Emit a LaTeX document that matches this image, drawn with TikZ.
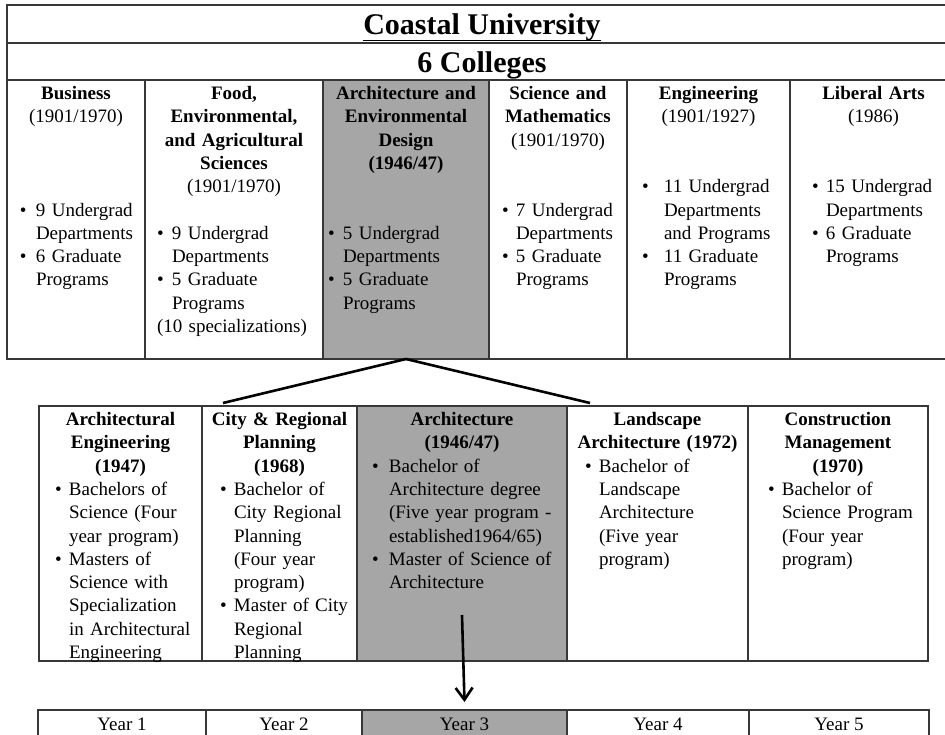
\documentclass[tikz,border=0pt]{standalone}
\usepackage{fontspec}
\setmainfont{Liberation Serif}
\usepackage{xcolor}
\usepackage{tikz}
\usetikzlibrary{arrows.meta}

\definecolor{cellgray}{RGB}{166,166,166}
\definecolor{rulegray}{RGB}{55,55,55}

\newlength{\bulx}
\newlength{\bulw}
\newcommand{\bulset}[2]{\setlength{\bulx}{#1}\setlength{\bulw}{#2}}
\newcommand{\bul}[1]{\par\raggedright\noindent\hspace*{\bulx}\makebox[\bulw][l]{\textbullet}\begin{tabular}[t]{@{}l@{}}#1\end{tabular}\par}
\newcommand{\note}[1]{\par\raggedright\noindent\hspace*{\bulx}\strut#1\par}
\newcommand{\gap}[1]{\par\vspace{#1\baselineskip}}
\newcommand{\bodyfont}{\fontsize{19}{23.3}\selectfont\lineskip=0pt}

\begin{document}
\begin{tikzpicture}[x=1pt, y=-1pt,
    cell/.style={draw=rulegray, line width=1.4pt, anchor=north west, inner sep=0pt, outer sep=0pt},
    grey/.style={fill=cellgray},
    txt/.style={anchor=north, inner sep=0pt, align=center, font=\bodyfont, execute at begin node=\strut},
    celltxt/.style={txt, yshift=-3pt},
    big/.style={anchor=base, inner sep=0pt, font=\fontsize{30}{36}\selectfont\bfseries},
    link/.style={line width=2.6pt}
]
\path[use as bounding box, clip] (0,0) rectangle (945,734);

% university and colleges
\node[cell, minimum width=950pt, minimum height=38pt] (unirow) at (7,5) {};
\node[cell, minimum width=950pt, minimum height=37pt] (colrow) at (7,43) {};
\node[big] (uni) at (482,34) {Coastal University};
\draw[line width=1.3pt] ([yshift=-6.5pt]uni.base west) -- ([yshift=-6.5pt]uni.base east);
\node[big] (count) at (482,72) {6 Colleges};

\node[cell, minimum width=138pt, minimum height=279pt] (biz) at (7,80) {};
\node[cell, minimum width=178pt, minimum height=279pt] (food) at (145,80) {};
\node[cell, grey, minimum width=166pt, minimum height=279pt] (aed) at (323,80) {};
\node[cell, minimum width=138pt, minimum height=279pt] (sci) at (489,80) {};
\node[cell, minimum width=163pt, minimum height=279pt] (eng) at (627,80) {};
\node[cell, minimum width=167pt, minimum height=279pt] (lib) at (790,80) {};

\node[celltxt, text width=138pt] (biz-t) at (biz.north) {\bulset{13pt}{16pt}{\bfseries Business}\\(1901/1970)\gap{3}%
  \bul{9 Undergrad\\Departments}\bul{6 Graduate\\Programs}};
\node[celltxt, text width=178pt] (food-t) at (food.north) {\bulset{12pt}{15pt}{\bfseries Food,\\Environmental,\\and Agricultural\\Sciences}\\(1901/1970)\gap{1}%
  \bul{9 Undergrad\\Departments}\bul{5 Graduate\\Programs}\note{(10 specializations)}};
\node[celltxt, text width=166pt] (aed-t) at (aed.north) {\bulset{5pt}{15pt}{\bfseries Architecture and\\Environmental\\Design\\(1946/47)}\gap{2}%
  \bul{5 Undergrad\\Departments}\bul{5 Graduate\\Programs}};
\node[celltxt, text width=138pt] (sci-t) at (sci.north) {\bulset{13pt}{14pt}{\bfseries Science and\\Mathematics}\\(1901/1970)\gap{2}%
  \bul{7 Undergrad\\Departments}\bul{5 Graduate\\Programs}};
\node[celltxt, text width=163pt] (eng-t) at (eng.north) {\bulset{15pt}{22pt}{\bfseries Engineering}\\(1901/1927)\gap{2}%
  \bul{11 Undergrad\\Departments\\and Programs}\bul{11 Graduate\\Programs}};
\node[celltxt, text width=167pt] (lib-t) at (lib.north) {\bulset{22pt}{14pt}{\bfseries Liberal Arts}\\(1986)\gap{2}%
  \bul{15 Undergrad\\Departments}\bul{6 Graduate\\Programs}};

% departments
\node[cell, minimum width=163pt, minimum height=255pt] (archeng) at (39,406) {};
\node[cell, minimum width=155pt, minimum height=255pt] (crp) at (202,406) {};
\node[cell, grey, minimum width=210pt, minimum height=255pt] (arch) at (357,406) {};
\node[cell, minimum width=181pt, minimum height=255pt] (larch) at (567,406) {};
\node[cell, minimum width=180pt, minimum height=255pt] (cm) at (748,406) {};

\node[celltxt, text width=163pt] (archeng-t) at (archeng.north) {\bulset{16pt}{14pt}{\bfseries Architectural\\Engineering\\(1947)}%
  \bul{Bachelors of\\Science (Four\\year program)}\bul{Masters of\\Science with\\Specialization\\in Architectural\\Engineering}};
\node[celltxt, text width=155pt] (crp-t) at (crp.north) {\bulset{18pt}{14pt}{\bfseries City \& Regional\\Planning\\(1968)}%
  \bul{Bachelor of\\City Regional\\Planning\\(Four year\\program)}\bul{Master of City\\Regional\\Planning}};
\node[celltxt, text width=210pt] (arch-t) at (arch.north) {\bulset{15pt}{17pt}{\bfseries Architecture\\(1946/47)}%
  \bul{Bachelor of\\Architecture degree\\(Five year program -\\established1964/65)}\bul{Master of Science of\\Architecture}};
\node[celltxt, text width=181pt] (larch-t) at (larch.north) {\bulset{18pt}{14pt}{\bfseries Landscape\\Architecture (1972)}%
  \bul{Bachelor of\\Landscape\\Architecture\\(Five year\\program)}};
\node[celltxt, text width=180pt] (cm-t) at (cm.north) {\bulset{20pt}{14pt}{\bfseries Construction\\Management\\(1970)}%
  \bul{Bachelor of\\Science Program\\(Four year\\program)}};

% years
\node[cell, minimum width=168pt, minimum height=40pt] (yr1) at (38,710) {};
\node[cell, minimum width=156pt, minimum height=40pt] (yr2) at (206,710) {};
\node[cell, grey, minimum width=205pt, minimum height=40pt] (yr3) at (362,710) {};
\node[cell, minimum width=182pt, minimum height=40pt] (yr4) at (567,710) {};
\node[cell, minimum width=180pt, minimum height=40pt] (yr5) at (749,710) {};

\node[txt] (yr1-t) at ([yshift=-3.5pt]yr1.north) {Year 1};
\node[txt] (yr2-t) at ([yshift=-3.5pt]yr2.north) {Year 2};
\node[txt] (yr3-t) at ([yshift=-3.5pt]yr3.north) {Year 3};
\node[txt] (yr4-t) at ([yshift=-3.5pt]yr4.north) {Year 4};
\node[txt] (yr5-t) at ([yshift=-3.5pt]yr5.north) {Year 5};

% links
\coordinate (splitL) at (223,403);
\coordinate (splitR) at (590,403);
\draw[link] (aed.south) -- (splitL);
\draw[link] (aed.south) -- (splitR);
\draw[link, -{Straight Barb[length=12pt, width=17pt]}] ([yshift=46pt]arch.south) -- ([yshift=8pt]yr3.north);
\end{tikzpicture}
\end{document}
